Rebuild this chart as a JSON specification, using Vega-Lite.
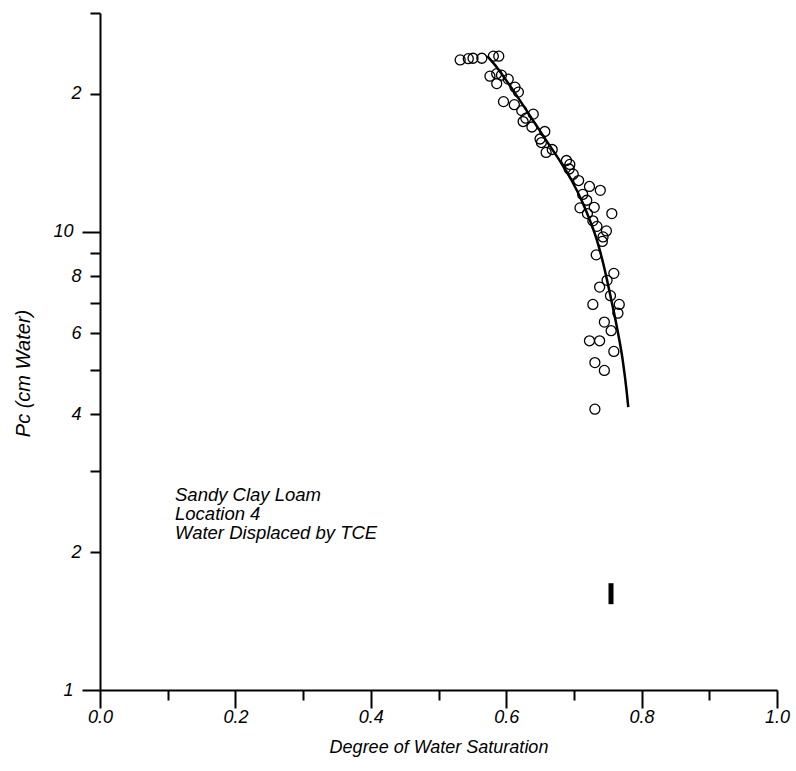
{
  "$schema": "https://vega.github.io/schema/vega-lite/v6.json",
  "width": 677,
  "height": 677,
  "autosize": "none",
  "padding": {"left": 100, "top": 13, "right": 19, "bottom": 81},
  "background": "white",
  "config": {"view": {"stroke": null}, "font": "Liberation Sans"},
  "datasets": {
    "obs": [
      {"Sw": 0.532, "Pc": 23.7}, {"Sw": 0.544, "Pc": 23.85}, {"Sw": 0.551, "Pc": 23.9}, {"Sw": 0.564, "Pc": 23.9},
      {"Sw": 0.581, "Pc": 24.15}, {"Sw": 0.589, "Pc": 24.15}, {"Sw": 0.576, "Pc": 21.84}, {"Sw": 0.586, "Pc": 22.12},
      {"Sw": 0.593, "Pc": 21.95}, {"Sw": 0.586, "Pc": 21.04}, {"Sw": 0.603, "Pc": 21.52}, {"Sw": 0.613, "Pc": 20.67},
      {"Sw": 0.618, "Pc": 20.16}, {"Sw": 0.596, "Pc": 19.22}, {"Sw": 0.612, "Pc": 18.93}, {"Sw": 0.623, "Pc": 18.37},
      {"Sw": 0.640, "Pc": 18.05}, {"Sw": 0.629, "Pc": 17.69}, {"Sw": 0.625, "Pc": 17.39}, {"Sw": 0.638, "Pc": 16.92},
      {"Sw": 0.657, "Pc": 16.54}, {"Sw": 0.650, "Pc": 15.93}, {"Sw": 0.652, "Pc": 15.65}, {"Sw": 0.668, "Pc": 15.11},
      {"Sw": 0.659, "Pc": 14.89}, {"Sw": 0.689, "Pc": 14.30}, {"Sw": 0.694, "Pc": 14.02}, {"Sw": 0.693, "Pc": 13.70},
      {"Sw": 0.699, "Pc": 13.35}, {"Sw": 0.707, "Pc": 12.93}, {"Sw": 0.723, "Pc": 12.55}, {"Sw": 0.739, "Pc": 12.31},
      {"Sw": 0.713, "Pc": 12.06}, {"Sw": 0.719, "Pc": 11.71}, {"Sw": 0.730, "Pc": 11.30}, {"Sw": 0.709, "Pc": 11.27},
      {"Sw": 0.756, "Pc": 10.95}, {"Sw": 0.720, "Pc": 10.95}, {"Sw": 0.728, "Pc": 10.56}, {"Sw": 0.734, "Pc": 10.27},
      {"Sw": 0.748, "Pc": 10.04}, {"Sw": 0.743, "Pc": 9.74}, {"Sw": 0.742, "Pc": 9.52}, {"Sw": 0.733, "Pc": 8.90},
      {"Sw": 0.759, "Pc": 8.11}, {"Sw": 0.749, "Pc": 7.83}, {"Sw": 0.738, "Pc": 7.57}, {"Sw": 0.754, "Pc": 7.25},
      {"Sw": 0.767, "Pc": 6.94}, {"Sw": 0.728, "Pc": 6.94}, {"Sw": 0.765, "Pc": 6.64}, {"Sw": 0.745, "Pc": 6.35},
      {"Sw": 0.755, "Pc": 6.08}, {"Sw": 0.723, "Pc": 5.78}, {"Sw": 0.738, "Pc": 5.78}, {"Sw": 0.759, "Pc": 5.48},
      {"Sw": 0.731, "Pc": 5.18}, {"Sw": 0.745, "Pc": 4.98}, {"Sw": 0.731, "Pc": 4.10}
    ],
    "fit": [
      {"Sw": 0.5721, "Pc": 24.15}, {"Sw": 0.5871, "Pc": 22.74}, {"Sw": 0.6041, "Pc": 20.98}, {"Sw": 0.6219, "Pc": 19.17},
      {"Sw": 0.6403, "Pc": 17.43}, {"Sw": 0.6598, "Pc": 15.76}, {"Sw": 0.6793, "Pc": 14.27}, {"Sw": 0.6971, "Pc": 12.90},
      {"Sw": 0.7118, "Pc": 11.67}, {"Sw": 0.7239, "Pc": 10.56}, {"Sw": 0.7343, "Pc": 9.55}, {"Sw": 0.7434, "Pc": 8.51},
      {"Sw": 0.7492, "Pc": 7.81}, {"Sw": 0.7533, "Pc": 7.32}, {"Sw": 0.7637, "Pc": 6.17}, {"Sw": 0.7722, "Pc": 5.23},
      {"Sw": 0.7783, "Pc": 4.43}, {"Sw": 0.7803, "Pc": 4.14}
    ],
    "bar": [{"Sw": 0.7548, "lo": 1.539, "hi": 1.710}],
    "note": [{"label": "Sandy Clay Loam"}]
  },
  "layer": [
    {
      "data": {"name": "obs"},
      "mark": {"type": "point", "shape": "circle", "size": 100, "filled": false, "stroke": "black", "strokeWidth": 1.3, "opacity": 1},
      "encoding": {
        "x": {
          "field": "Sw", "type": "quantitative",
          "scale": {"domain": [0, 1], "nice": false, "zero": false},
          "axis": {
            "values": [0, 0.1, 0.2, 0.3, 0.4, 0.5, 0.6, 0.7, 0.8, 0.9, 1.0],
            "title": "Degree of Water Saturation",
            "labelExpr": "round(datum.value*10)%2==0 ? format(datum.value,'.1f') : ''",
            "tickSize": {"condition": {"test": "round(datum.value*10)%2==0", "value": 18}, "value": 10},
            "tickWidth": 2, "tickColor": "black", "domainWidth": 2, "domainColor": "black",
            "labelFont": "Liberation Sans", "labelFontStyle": "italic", "labelFontSize": 18, "labelColor": "black",
            "labelPadding": 0, "labelFlush": false, "labelOverlap": false, "grid": false,
            "titleFont": "Liberation Sans", "titleFontStyle": "italic", "titleFontWeight": "normal", "titleFontSize": 18,
            "titleColor": "black", "titlePadding": 12
          }
        },
        "y": {
          "field": "Pc", "type": "quantitative",
          "scale": {"type": "log", "domain": [1, 30], "nice": false},
          "axis": {
            "values": [1, 2, 3, 4, 5, 6, 7, 8, 9, 10, 20, 30],
            "title": "Pc    (cm Water)",
            "labelExpr": "datum.value==20 ? '2' : (indexof([1,2,4,6,8,10], datum.value) >= 0 ? format(datum.value,'d') : '')",
            "tickSize": {"condition": {"test": "datum.value==1 || datum.value==10", "value": 18}, "value": 10},
            "tickWidth": 2, "tickColor": "black", "domainWidth": 2, "domainColor": "black",
            "labelFont": "Liberation Sans", "labelFontStyle": "italic", "labelFontSize": 18, "labelColor": "black",
            "labelPadding": 9, "labelOverlap": false, "labelFlush": false, "grid": false,
            "titleFont": "Liberation Sans", "titleFontStyle": "italic", "titleFontWeight": "normal", "titleFontSize": 20,
            "titleColor": "black", "titleX": -67, "titleY": 360
          }
        }
      }
    },
    {
      "data": {"name": "fit"},
      "mark": {"type": "line", "color": "black", "strokeWidth": 2.5, "interpolate": "monotone"},
      "encoding": {
        "x": {"field": "Sw", "type": "quantitative"},
        "y": {"field": "Pc", "type": "quantitative"}
      }
    },
    {
      "data": {"name": "bar"},
      "mark": {"type": "rule", "color": "black", "strokeWidth": 5},
      "encoding": {
        "x": {"field": "Sw", "type": "quantitative"},
        "y": {"field": "lo", "type": "quantitative"},
        "y2": {"field": "hi"}
      }
    },
    {
      "data": {"name": "note"},
      "mark": {"type": "text", "text": ["Sandy Clay Loam", "Location 4", "Water Displaced by TCE"], "align": "left", "baseline": "alphabetic",
        "font": "Liberation Sans", "fontStyle": "italic", "fontSize": 18.5, "lineHeight": 19, "color": "black"},
      "encoding": {
        "x": {"datum": 0.1108},
        "y": {"datum": 2.58}
      }
    }
  ]
}
